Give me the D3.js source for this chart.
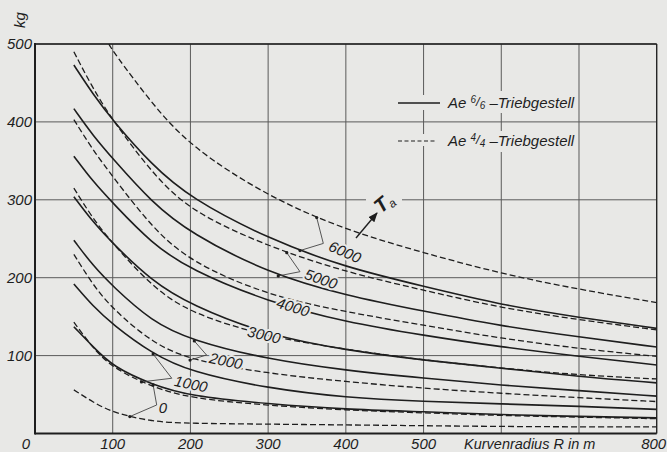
<!DOCTYPE html>
<html><head><meta charset="utf-8">
<script src="https://cdn.jsdelivr.net/npm/d3@7"></script>
<style>
html,body{margin:0;padding:0;background:#e8e8e6;}
svg{display:block;}
text{font-family:"Liberation Sans",Arial,sans-serif;font-style:italic;fill:#1e1e1e;}
</style></head><body>
<svg id="c" width="667" height="452"></svg>
<script>
// ---- data ----
const radii    = [50, 75, 100, 150, 200, 300, 400, 500, 600, 700, 800];
const radiiTop = [95, 100, 150, 200, 300, 400, 500, 600, 700, 800];
const taLevels = [0, 1000, 2000, 3000, 4000, 5000, 6000];

// Ae 6/6 - Triebgestell (solid), lateral force in kg
const ae66_0    = [137, 111,  86,  63,  48,  38,  31,  28,  24,  22,  20];
const ae66_1000 = [192, 163, 140, 103,  79,  58,  46,  41,  38,  35,  31];
const ae66_2000 = [248, 215, 189, 144, 120,  95,  81,  71,  62,  55,  48];
const ae66_3000 = [304, 271, 244, 196, 165, 126, 107,  94,  84,  73,  65];
const ae66_4000 = [356, 323, 296, 244, 210, 169, 143, 126, 111,  99,  88];
const ae66_5000 = [417, 382, 353, 297, 257, 206, 177, 157, 138, 124, 111];
const ae66_6000 = [473, 435, 402, 345, 302, 250, 213, 189, 165, 149, 135];

// Ae 4/4 - Triebgestell (dashed)
const ae44_0    = [ 56,  40,  27,  15,  13,  12,  11,  10,   9, 8.5, 8.5];
const ae44_1000 = [143, 109,  84,  60,  45,  36,  30, 26.5, 23,  21,  19];
const ae44_2000 = [230, 190, 160, 117,  94,  77, 66.5, 58, 51.5, 46,  41];
const ae44_3000 = [315, 275, 244, 189, 154, 124, 108,  94,  84,  75,  70];
const ae44_4000 = [403, 363, 330, 265, 220, 177, 156, 139, 122, 109,  99];
const ae44_5000 = [490, 442, 402, 335, 285, 240, 207, 184, 161, 146, 133];
const ae44_6000 = [500, 491, 424, 368, 304, 261, 232, 205, 185, 168];   // on radiiTop

const xTickValues = [100, 200, 300, 400, 500, 800];
const yTickValues = [100, 200, 300, 400, 500];
const gridX = [100, 200, 300, 400, 500, 600, 700, 800];

// ---- drawing ----
const svg = d3.select("#c");
const W = 667, H = 452;
const bg = "#e8e8e6", ink = "#1e1e1e", gridCol = "#5a5a5a";
const x = d3.scaleLinear().domain([0, 800]).range([35, 656.7]);
const y = d3.scaleLinear().domain([0, 500]).range([433.5, 44]);

svg.append("rect").attr("width", W).attr("height", H).attr("fill", bg);

svg.append("defs").append("clipPath").attr("id", "plot")
  .append("rect").attr("x", x(0)).attr("y", y(500)).attr("width", x(800) - x(0)).attr("height", y(0) - y(500));

// grid
const g = svg.append("g");
g.selectAll("line.gx").data(gridX).join("line")
  .attr("x1", d => x(d)).attr("x2", d => x(d)).attr("y1", y(0)).attr("y2", y(500))
  .attr("stroke", gridCol).attr("stroke-width", 1);
g.selectAll("line.gy").data(yTickValues).join("line")
  .attr("x1", x(0)).attr("x2", x(800)).attr("y1", d => y(d)).attr("y2", d => y(d))
  .attr("stroke", gridCol).attr("stroke-width", 1);

// blank areas behind the legend rows and the T_a label
[[391, 95, 53, 15], [444, 91, 133, 22], [391, 134, 53, 12], [444, 131, 133, 21], [366, 194, 36, 12]]
  .forEach(r => svg.append("rect").attr("x", r[0]).attr("y", r[1]).attr("width", r[2]).attr("height", r[3]).attr("fill", bg));

// curves
const solidSets = [ae66_0, ae66_1000, ae66_2000, ae66_3000, ae66_4000, ae66_5000, ae66_6000];
const dashedSets = [ae44_0, ae44_1000, ae44_2000, ae44_3000, ae44_4000, ae44_5000];
const line = d3.line().x(d => x(d[0])).y(d => y(d[1])).curve(d3.curveBasis);
const cg = svg.append("g").attr("clip-path", "url(#plot)").attr("fill", "none");
solidSets.forEach(v => {
  cg.append("path").attr("d", line(d3.zip(radii, v))).attr("stroke", ink).attr("stroke-width", 1.6);
});
dashedSets.forEach(v => {
  cg.append("path").attr("d", line(d3.zip(radii, v))).attr("stroke", ink).attr("stroke-width", 1.3)
    .attr("stroke-dasharray", "6,3");
});
cg.append("path").attr("d", line(d3.zip(radiiTop, ae44_6000))).attr("stroke", ink).attr("stroke-width", 1.3)
  .attr("stroke-dasharray", "6,3");

// frame
const fr = svg.append("g").attr("stroke", ink).attr("fill", "none");
fr.append("line").attr("x1", x(0)).attr("x2", x(0)).attr("y1", y(500) - 1).attr("y2", y(0) + 1).attr("stroke-width", 2);
fr.append("line").attr("x1", x(0)).attr("x2", x(800)).attr("y1", y(0)).attr("y2", y(0)).attr("stroke-width", 2);
fr.append("line").attr("x1", x(0)).attr("x2", x(800)).attr("y1", y(500)).attr("y2", y(500)).attr("stroke-width", 1.4);
fr.append("line").attr("x1", x(800)).attr("x2", x(800)).attr("y1", y(500)).attr("y2", y(0)).attr("stroke-width", 1.2);

// axis labels
svg.selectAll("text.yt").data(yTickValues).join("text")
  .attr("x", 32).attr("y", d => y(d) + 5).attr("text-anchor", "end")
  .attr("font-size", 15).text(d => d);
svg.selectAll("text.xt").data(xTickValues).join("text")
  .attr("x", d => d === 800 ? x(d) - 3 : x(d)).attr("y", 449).attr("text-anchor", "middle")
  .attr("font-size", 15).text(d => d);
svg.append("text").attr("x", 26).attr("y", 449).attr("text-anchor", "middle").attr("font-size", 15).text("0");
svg.append("text").attr("x", 464).attr("y", 449).attr("font-size", 14.5).text("Kurvenradius R in m");
svg.append("text").attr("transform", "translate(25,20) rotate(-90)").attr("text-anchor", "middle")
  .attr("font-size", 15).text("kg");

// legend
function legendRow(yy, dashed, num) {
  svg.append("line").attr("x1", 398).attr("x2", dashed ? 437 : 440).attr("y1", yy).attr("y2", yy)
    .attr("stroke", ink).attr("stroke-width", dashed ? 1.2 : 1.5).attr("stroke-dasharray", dashed ? "4,2.5" : null);
  const t = svg.append("text").attr("x", 448).attr("y", yy + 5).attr("font-size", 15);
  t.append("tspan").text("Ae ");
  t.append("tspan").attr("font-size", 10).attr("dy", -5).text(num);
  t.append("tspan").attr("font-size", 13).attr("dy", 3).text("/");
  t.append("tspan").attr("font-size", 10).attr("dy", 3).text(num);
  t.append("tspan").attr("dy", -1).text(" \u2013Triebgestell");
}
legendRow(103, false, "6");
legendRow(141, true, "4");

// curve labels and leader lines
function at(rs, vs, r) { return d3.scaleLinear().domain(rs).range(vs)(r); }
const leaders = [
  {j: [371, 244], pts: [[radiiTop, ae44_6000, 362.5], [radii, ae66_6000, 341]]},
  {j: [341, 207.7], pts: [[radii, ae44_5000, 324], [radii, ae66_5000, 313]]},
  {j: [220.7, 100.8], pts: [[radii, ae66_2000, 205], [radii, ae44_2000, 199.5]]},
  {j: [176, 70.9], pts: [[radii, ae66_1000, 152], [radii, ae44_1000, 137]]},
  {j: [156.6, 36.6], pts: [[radii, ae66_0, 152], [radii, ae44_0, 122]]}
];
const lg = svg.append("g");
leaders.forEach(L => {
  L.pts.forEach(p => {
    const px = x(p[2]), py = y(at(p[0], p[1], p[2]));
    lg.append("line").attr("x1", x(L.j[0])).attr("y1", y(L.j[1])).attr("x2", px).attr("y2", py)
      .attr("stroke", "#444").attr("stroke-width", 0.9);
    lg.append("circle").attr("cx", px).attr("cy", py).attr("r", 1.6).attr("fill", ink);
  });
});

const labelSpecs = [
  {t: "6000", px: 345, py: 252, rot: 24},
  {t: "5000", px: 321, py: 279, rot: 19},
  {t: "4000", px: 293, py: 307, rot: 17},
  {t: "3000", px: 264, py: 335, rot: 13},
  {t: "2000", px: 226, py: 361, rot: 12},
  {t: "1000", px: 191, py: 384, rot: 12},
  {t: "0", px: 163, py: 408, rot: 0}
];
svg.selectAll("text.cl").data(labelSpecs).join("text")
  .attr("transform", d => `translate(${d.px},${d.py}) rotate(${d.rot})`)
  .attr("text-anchor", "middle").attr("dy", "0.35em").attr("font-size", 15)
  .attr("stroke", bg).attr("stroke-width", 4).attr("paint-order", "stroke")
  .text(d => d.t);

// T_a arrow
svg.append("defs").append("marker").attr("id", "ah").attr("viewBox", "0 0 10 10")
  .attr("refX", 9).attr("refY", 5).attr("markerWidth", 7).attr("markerHeight", 7).attr("orient", "auto")
  .append("path").attr("d", "M0,1L10,5L0,9Z").attr("fill", ink);
svg.append("line").attr("x1", 356).attr("y1", 238).attr("x2", 377).attr("y2", 213)
  .attr("stroke", ink).attr("stroke-width", 1.4).attr("marker-end", "url(#ah)");
const ta = svg.append("text").attr("transform", "translate(381,214) rotate(-40)")
  .attr("font-size", 20).attr("font-weight", "bold");
ta.append("tspan").text("T");
ta.append("tspan").attr("font-size", 12).attr("font-weight", "normal").attr("dy", 3).text("a");
</script>
</body></html>
